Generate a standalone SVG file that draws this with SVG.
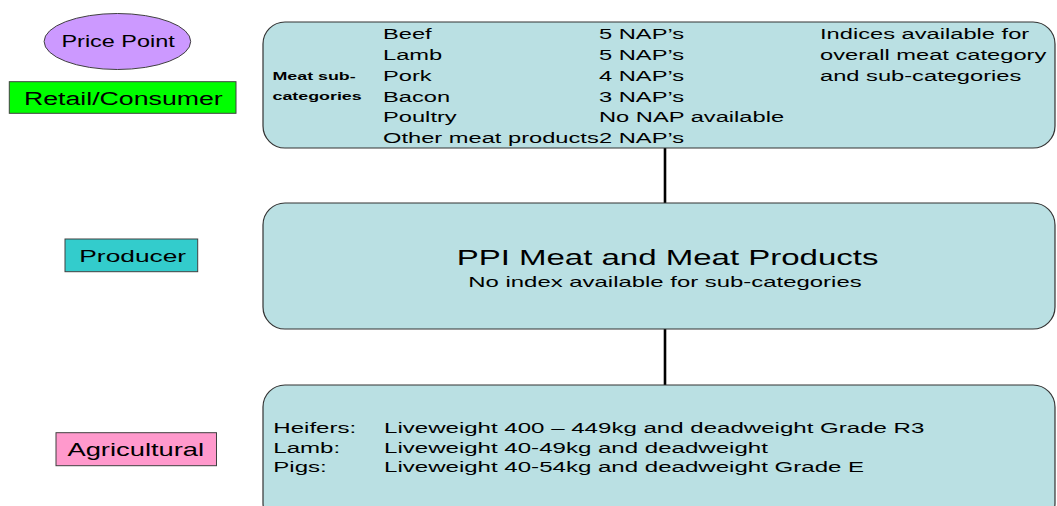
<svg xmlns="http://www.w3.org/2000/svg" width="1057" height="506" viewBox="0 0 1057 506">
<style>
text{font-family:"Liberation Sans",Arial,sans-serif;fill:#000}
.lab{stroke:#404040;stroke-width:1}
.box{fill:#bae0e3;stroke:#333;stroke-width:1.2}
.t{font-size:14.5px}
.b{font-size:10.5px;font-weight:bold}
.conn{stroke:#000;stroke-width:2.6}
</style>
<rect width="1057" height="506" fill="#fff"/>
<g id="price-point">
<ellipse class="lab" cx="117.4" cy="41.5" rx="73.3" ry="28" fill="#cc99ff"/>
<text transform="translate(61.5 46.7) scale(1.465 1)" font-size="16">Price Point</text>
</g>
<g id="retail">
<rect class="lab" x="9.3" y="81.7" width="226.7" height="31.6" fill="#00ff00"/>
<text transform="translate(24 105) scale(1.483 1)" font-size="18">Retail/Consumer</text>
</g>
<g id="producer">
<rect class="lab" x="65" y="239" width="132.7" height="32.7" fill="#33cccc"/>
<text transform="translate(79.3 262) scale(1.55 1)" font-size="17">Producer</text>
</g>
<g id="agricultural">
<rect class="lab" x="56" y="432.7" width="160.5" height="33" fill="#ff99cc"/>
<text transform="translate(67.4 456) scale(1.52 1)" font-size="18">Agricultural</text>
</g>
<g id="connectors">
<line class="conn" x1="665" y1="148" x2="665" y2="203"/>
<line class="conn" x1="665" y1="329" x2="665" y2="385"/>
</g>
<g id="retail-box">
<rect class="box" x="263" y="22" width="792" height="126" rx="22" ry="22"/>
<g transform="translate(272.5 0) scale(1.7 1)">
<text class="b" x="0" y="80">Meat sub-</text>
<text class="b" x="0" y="100.5">categories</text>
</g>
<g class="t" transform="translate(383 0) scale(1.634 1)">
<text class="t" x="0" y="39.5">Beef</text>
<text class="t" x="0" y="60.2">Lamb</text>
<text class="t" x="0" y="81">Pork</text>
<text class="t" x="0" y="101.7">Bacon</text>
<text class="t" x="0" y="122.4">Poultry</text>
<text class="t" x="0" y="143.2">Other meat products</text>
</g>
<g transform="translate(599 0) scale(1.634 1)">
<text class="t" x="0" y="39.5">5 NAP’s</text>
<text class="t" x="0" y="60.2">5 NAP’s</text>
<text class="t" x="0" y="81">4 NAP’s</text>
<text class="t" x="0" y="101.7">3 NAP’s</text>
<text class="t" x="0" y="122.4">No NAP available</text>
<text class="t" x="0" y="143.2">2 NAP’s</text>
</g>
<g transform="translate(820 0) scale(1.634 1)">
<text class="t" x="0" y="39.5">Indices available for</text>
<text class="t" x="0" y="60.2">overall meat category</text>
<text class="t" x="0" y="81">and sub-categories</text>
</g>
</g>
<g id="producer-box">
<rect class="box" x="263" y="203" width="792" height="126" rx="22" ry="22"/>
<text transform="translate(456.7 265) scale(1.5 1)" font-size="22">PPI Meat and Meat Products</text>
<text transform="translate(468.3 286.5) scale(1.65 1)" font-size="14.5">No index available for sub-categories</text>
</g>
<g id="agricultural-box">
<rect class="box" x="263" y="385" width="792" height="140" rx="22" ry="22"/>
<g transform="translate(273.3 0) scale(1.66 1)">
<text class="t" x="0" y="433.3">Heifers:</text>
<text class="t" x="0" y="452.8">Lamb:</text>
<text class="t" x="0" y="472.3">Pigs:</text>
</g>
<g transform="translate(384 0) scale(1.66 1)">
<text class="t" x="0" y="433.3">Liveweight 400 – 449kg and deadweight Grade R3</text>
<text class="t" x="0" y="452.8">Liveweight 40-49kg and deadweight</text>
<text class="t" x="0" y="472.3">Liveweight 40-54kg and deadweight Grade E</text>
</g>
</g>
</svg>
